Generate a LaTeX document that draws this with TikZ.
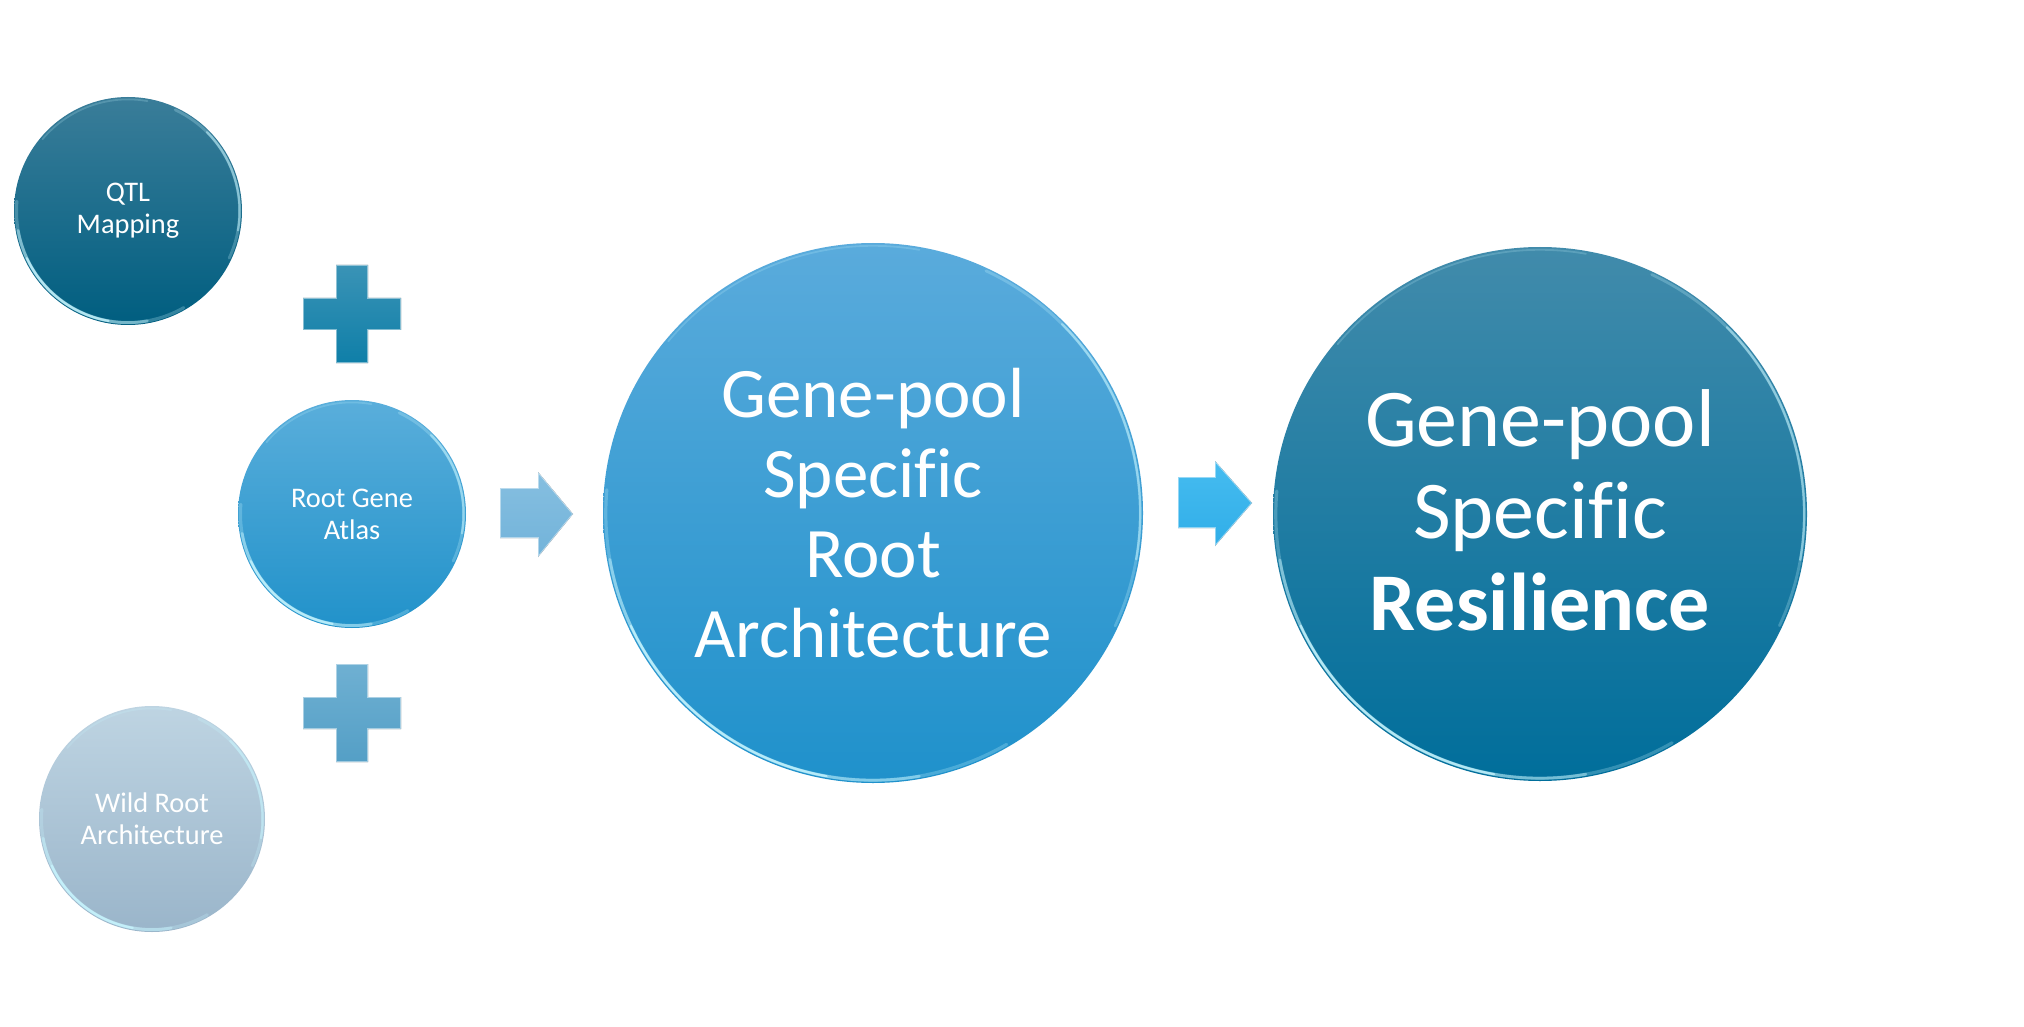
\documentclass[tikz,border=0pt]{standalone}
\usepackage{fontspec}
\setmainfont{Carlito}[Ligatures=CommonOff]
\usetikzlibrary{calc}
\definecolor{qtlTop}{HTML}{3A7D99}
\definecolor{qtlBot}{HTML}{005E80}
\definecolor{rgaTop}{HTML}{5AAEDB}
\definecolor{rgaBot}{HTML}{2192CA}
\definecolor{wraTop}{HTML}{BED4E2}
\definecolor{wraBot}{HTML}{9AB5CA}
\definecolor{bigATop}{HTML}{5AABDC}
\definecolor{bigABot}{HTML}{1F91CB}
\definecolor{bigBTop}{HTML}{418BAB}
\definecolor{bigBBot}{HTML}{006E9B}
\definecolor{plusATop}{HTML}{3A93B6}
\definecolor{plusABot}{HTML}{0F7FA8}
\definecolor{plusBTop}{HTML}{6FB0D2}
\definecolor{plusBBot}{HTML}{549FC6}
\definecolor{arrATop}{HTML}{86BFE0}
\definecolor{arrABot}{HTML}{72B3DA}
\definecolor{arrBTop}{HTML}{46BCF0}
\definecolor{arrBBot}{HTML}{30AEE8}
\definecolor{rimcol}{HTML}{C8F6FF}
\newcommand\plusoutline{(-16,-49) -- (16,-49) -- (16,-16) -- (49,-16) -- (49,16) -- (16,16) -- (16,49) -- (-16,49) -- (-16,16) -- (-49,16) -- (-49,-16) -- (-16,-16) -- cycle}
\begin{document}
\begin{tikzpicture}[x=0.5pt,y=-0.5pt,
  bubble/.style={circle, draw=none, inner sep=0pt, outer sep=0pt, text=white, align=center},
  smalltext/.style={font=\fontsize{14.2}{16}\selectfont},
  rim/.style={draw=rimcol, line cap=round},
  bevel/.style={draw=white, draw opacity=0.45, line width=0.8pt, line join=miter},
]
\useasboundingbox (0,0) rectangle (2024,1027);
\fill[white] (0,0) rectangle (2024,1027);

% small bubbles
\node[bubble, smalltext, minimum size=114pt, top color=qtlTop, bottom color=qtlBot] (qtl) at (128,211) {QTL\\Mapping};
\node[bubble, smalltext, minimum size=114pt, top color=rgaTop, bottom color=rgaBot] (rga) at (352,514) {Root Gene\\Atlas};
\node[bubble, smalltext, minimum size=113pt, top color=wraTop, bottom color=wraBot] (wra) at (152,819) {Wild Root\\Architecture};

% big bubbles
\node[bubble, minimum size=270pt, top color=bigATop, bottom color=bigABot, font=\fontsize{35.5}{40}\selectfont] (gsra) at (873,513) {Gene-pool\\Specific\\Root\\Architecture};
\node[bubble, minimum size=267pt, top color=bigBTop, bottom color=bigBBot,
  label={[text=white, align=center, font=\fontsize{41}{46}\selectfont, yshift=2pt]center:{Gene-pool\\Specific\\\textbf{Resilience}}}] (gsr) at (1540,514) {};

% glossy rims (layered for a soft fade)
\foreach \n/\r in {qtl/55.8, rga/55.8, wra/55.3, gsra/133.6, gsr/132.1} {
  \draw[rim, line width=1.6pt, opacity=0.25] (\n.center) ++(175:\r pt) arc[start angle=175, end angle=300, radius=\r pt];
  \draw[rim, line width=1.4pt, opacity=0.45] (\n.center) ++(190:\r pt) arc[start angle=190, end angle=280, radius=\r pt];
  \draw[rim, line width=1.1pt, opacity=0.75] (\n.center) ++(205:\r pt) arc[start angle=205, end angle=260, radius=\r pt];
  \draw[rim, line width=1.4pt, opacity=0.25] (\n.center) ++(-25:\r pt) arc[start angle=-25, end angle=65, radius=\r pt];
  \draw[rim, line width=1.1pt, opacity=0.5] (\n.center) ++(-10:\r pt) arc[start angle=-10, end angle=45, radius=\r pt];
  \draw[rim, line width=0.9pt, opacity=0.2] (\n.center) ++(80:\r pt) arc[start angle=80, end angle=140, radius=\r pt];
}

% plus signs
\coordinate (plusA) at (352,314);
\coordinate (plusB) at (352,713);
\begin{scope}[shift={(plusA)}]
  \fill[top color=plusATop, bottom color=plusABot] \plusoutline;
  \draw[bevel] \plusoutline;
\end{scope}
\begin{scope}[shift={(plusB)}]
  \fill[top color=plusBTop, bottom color=plusBBot] \plusoutline;
  \draw[bevel] \plusoutline;
\end{scope}

% block arrows
\coordinate (arrA) at (500,488);
\coordinate (arrB) at (1178,477);
\fill[top color=arrATop, bottom color=arrABot] (arrA) -- ++(38,0) -- ++(0,-16) -- ++(35,42) -- ++(-35,43) -- ++(0,-19) -- ++(-38,0) -- cycle;
\draw[bevel] (arrA) -- ++(38,0) -- ++(0,-16) -- ++(35,42) -- ++(-35,43) -- ++(0,-19) -- ++(-38,0) -- cycle;
\fill[top color=arrBTop, bottom color=arrBBot] (arrB) -- ++(37,0) -- ++(0,-16) -- ++(37,42) -- ++(-37,43) -- ++(0,-18) -- ++(-37,0) -- cycle;
\draw[bevel] (arrB) -- ++(37,0) -- ++(0,-16) -- ++(37,42) -- ++(-37,43) -- ++(0,-18) -- ++(-37,0) -- cycle;
\end{tikzpicture}
\end{document}
